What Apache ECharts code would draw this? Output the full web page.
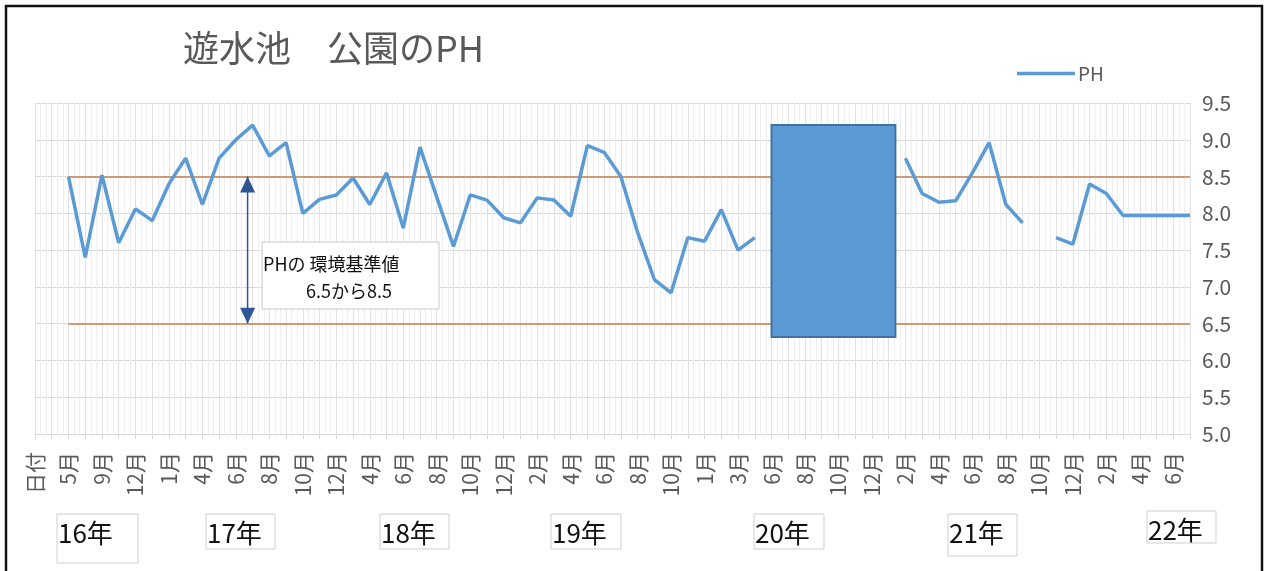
<!DOCTYPE html>
<html><head><meta charset="utf-8">
<script src="https://cdn.jsdelivr.net/npm/echarts@6/dist/echarts.min.js"></script>
<style>html,body{margin:0;padding:0;background:#fff}#c{width:1268px;height:571px}</style>
</head><body><div id="c"></div>
<script>
// ---- data ----
const categories = [
  '日付','4月','5月','7月','9月','11月','12月','12月','1月','3月',
  '4月','5月','6月','7月','8月','9月','10月','11月','12月','2月',
  '4月','5月','6月','7月','8月','9月','10月','11月','12月','1月',
  '2月','3月','4月','5月','6月','7月','8月','9月','10月','12月',
  '1月','2月','3月','5月','6月','7月','8月','9月','10月','11月',
  '12月','1月','2月','3月','4月','5月','6月','7月','8月','9月',
  '10月','11月','12月','1月','2月','3月','4月','5月','6月','7月'
];
const phValues = [
  null, null, 8.5, 7.4, 8.52, 7.6, 8.06, 7.9, 8.4, 8.75,
  8.12, 8.75, 9.0, 9.2, 8.78, 8.96, 8.0, 8.19, 8.25, 8.48,
  8.12, 8.55, 7.8, 8.9, 8.22, 7.55, 8.25, 8.18, 7.94, 7.87,
  8.21, 8.18, 7.96, 8.92, 8.83, 8.5, 7.74, 7.1, 6.92, 7.67,
  7.62, 8.05, 7.5, 7.67, null, null, null, null, null, null,
  null, null, 8.75, 8.27, 8.15, 8.17, 8.55, 8.96, 8.12, 7.87,
  null, 7.67, 7.58, 8.4, 8.27, 7.97, 7.97, 7.97, 7.97, 7.97
];
const standardRange = [6.5, 8.5];          // 環境基準値
const standardFromIndex = 2;
const closedBlock = [44, 9.2, 51.4, 6.32]; // x from, top pH, x to, bottom pH
const arrowPosition = 12.7;
const yMin = 5.0, yMax = 9.5, yStep = 0.5;
const yearLabels = ['16年','17年','18年','19年','20年','21年','22年'];
const titleText = '遊水池　公園のPH';
const noteLines = ['PHの 環境基準値', '6.5から8.5'];

// ---- chart ----
const FONT = 'Noto Sans CJK JP';
const chart = echarts.init(document.getElementById('c'), null, {renderer: 'canvas'});
const lastIndex = categories.length - 1;

const yearBoxes = [
  [57, 514, 81, 49], [206, 514, 69, 35], [380, 514, 69, 35], [551, 514, 70, 35],
  [754, 514, 70, 35], [948, 514, 69, 42], [1147, 511, 69, 32]
];
const graphics = [
  {type: 'rect', shape: {x: 6, y: 6, width: 1256, height: 580}, style: {fill: 'none', stroke: '#111', lineWidth: 2.5}, z: 100},
  {type: 'rect', shape: {x: 262, y: 242, width: 177, height: 67}, style: {fill: '#fff', stroke: '#c8c8c8', lineWidth: 1}, z: 50},
  {type: 'text', x: 263, y: 264, style: {text: noteLines[0], fontSize: 18, fontFamily: FONT, fill: '#111', verticalAlign: 'middle'}, z: 51},
  {type: 'text', x: 349, y: 291, style: {text: noteLines[1], fontSize: 18, fontFamily: FONT, fill: '#111', align: 'center', verticalAlign: 'middle'}, z: 51}
];
yearLabels.forEach((t, i) => {
  const b = yearBoxes[i];
  graphics.push({type: 'rect', shape: {x: b[0], y: b[1], width: b[2], height: b[3]}, style: {fill: '#fff', stroke: '#cfcfcf', lineWidth: 1}, z: 50});
  graphics.push({type: 'text', x: b[0] + 1, y: b[1] + 19, style: {text: t, fontSize: 26, fontFamily: FONT, fill: '#111', verticalAlign: 'middle'}, z: 51});
});

const option = {
  animation: false,
  backgroundColor: '#fff',
  textStyle: {fontFamily: FONT},
  title: {
    text: titleText, left: 183, top: 30, padding: 0,
    textStyle: {fontSize: 36, fontWeight: 'normal', color: '#595959', fontFamily: FONT}
  },
  legend: {
    data: ['PH'], left: 1012, top: 59, icon: 'rect', itemWidth: 58, itemHeight: 3.5,
    textStyle: {fontSize: 19, fontWeight: 'normal', color: '#595959', fontFamily: FONT, padding: [0, 0, 0, -2]}
  },
  grid: {left: 35, right: 78, top: 103, bottom: 137, containLabel: false},
  xAxis: [
    {
      type: 'category', data: categories, boundaryGap: false,
      axisLine: {show: true, lineStyle: {color: '#d9d9d9', width: 1}},
      axisTick: {show: true, interval: 0, length: 5, lineStyle: {color: '#d9d9d9'}},
      axisLabel: {interval: 1, rotate: 90, margin: 18, fontSize: 21, fontWeight: 'normal', color: '#595959', fontFamily: FONT},
      splitLine: {show: true, interval: 0, lineStyle: {color: '#e2e2e2', width: 1}}
    },
    {
      type: 'value', min: 0, max: lastIndex, interval: 1, position: 'bottom',
      axisLine: {show: false}, axisTick: {show: false}, axisLabel: {show: false},
      splitLine: {show: false},
      minorTick: {show: false, splitNumber: 3},
      minorSplitLine: {show: true, lineStyle: {color: '#efefef', width: 1}}
    }
  ],
  yAxis: {
    type: 'value', position: 'right', min: yMin, max: yMax, interval: yStep,
    axisLine: {show: false}, axisTick: {show: false},
    axisLabel: {fontSize: 21, fontWeight: 'normal', color: '#595959', margin: 12, fontFamily: FONT, formatter: v => v.toFixed(1)},
    splitLine: {show: true, lineStyle: {color: '#d9d9d9', width: 1}}
  },
  series: [
    {
      name: 'PH', type: 'line', data: phValues, xAxisIndex: 0, yAxisIndex: 0,
      symbol: 'none', connectNulls: false, z: 6,
      lineStyle: {color: '#5b9bd5', width: 3.5}, itemStyle: {color: '#5b9bd5'}
    },
    {
      name: 'arrow', type: 'line', xAxisIndex: 1, yAxisIndex: 0, z: 5,
      data: [
        {value: [arrowPosition, standardRange[1]], symbolRotate: 0, symbolOffset: [0, 8]},
        {value: [arrowPosition, standardRange[0]], symbolRotate: 180, symbolOffset: [0, -8]}
      ],
      symbol: 'triangle', symbolSize: [15, 16],
      lineStyle: {color: '#2f5597', width: 1.5}, itemStyle: {color: '#2f5597'},
      silent: true,
      markLine: {
        silent: true, z: 3, symbol: ['none', 'none'], label: {show: false},
        lineStyle: {color: '#c4804c', width: 1.6, type: 'solid'},
        emphasis: {disabled: true},
        data: standardRange.map(v => [{coord: [standardFromIndex, v]}, {coord: [lastIndex, v]}])
      }
    },
    {
      name: 'block', type: 'custom', xAxisIndex: 1, yAxisIndex: 0, z: 10, silent: true,
      data: [closedBlock],
      encode: {x: [0, 2], y: [1, 3]},
      renderItem: (params, api) => {
        const p1 = api.coord([api.value(0), api.value(1)]);
        const p2 = api.coord([api.value(2), api.value(3)]);
        return {type: 'rect', shape: {x: p1[0], y: p1[1], width: p2[0] - p1[0], height: p2[1] - p1[1]},
          style: {fill: '#5b9bd5', stroke: '#41719c', lineWidth: 2}};
      }
    }
  ],
  graphic: graphics
};
chart.setOption(option);
</script>
</body></html>
